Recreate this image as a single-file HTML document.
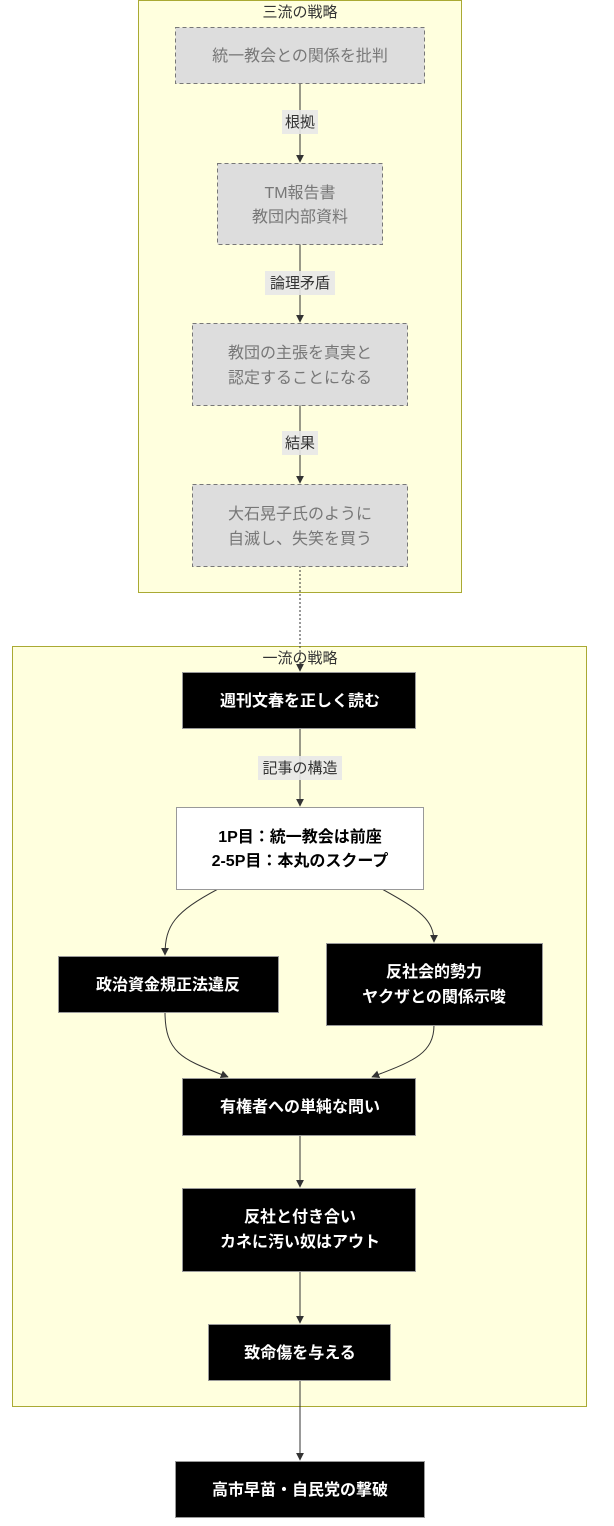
<!DOCTYPE html>
<html><head><meta charset="utf-8"><style>
html,body{margin:0;padding:0;background:#fff;}
svg{display:block;font-family:"Liberation Sans","Noto Sans CJK JP",sans-serif;}
</style></head><body>
<svg width="614" height="1526" viewBox="0 0 614 1526" xmlns="http://www.w3.org/2000/svg">
<defs>
<marker id="a" viewBox="0 0 10 10" refX="9" refY="5" markerWidth="8" markerHeight="8" orient="auto"><path d="M0,0L10,5L0,10z" fill="#333"/></marker>
</defs>
<!-- subgraph 1 -->
<rect x="138.5" y="0.5" width="323" height="592" fill="#ffffde" stroke="#aaaa33"/>
<text x="300" y="17" text-anchor="middle" font-size="15" fill="#333">三流の戦略</text>
<!-- subgraph 2 -->
<rect x="12.5" y="646.5" width="574" height="760" fill="#ffffde" stroke="#aaaa33"/>

<g stroke="#333" stroke-width="1" fill="none">
<line x1="300" y1="83" x2="300" y2="162" marker-end="url(#a)"/>
<line x1="300" y1="244" x2="300" y2="322" marker-end="url(#a)"/>
<line x1="300" y1="405" x2="300" y2="483" marker-end="url(#a)"/>
<line x1="300" y1="566" x2="300" y2="671" stroke-dasharray="2,2" marker-end="url(#a)"/>
<line x1="300" y1="728" x2="300" y2="806" marker-end="url(#a)"/>
<path d="M218,889 C175,912 165,925 165,955" marker-end="url(#a)"/>
<path d="M382,889 C420,910 434,920 434,942" marker-end="url(#a)"/>
<path d="M165,1012 C165,1055 185,1060 228,1077" marker-end="url(#a)"/>
<path d="M434,1025 C434,1055 410,1062 372,1077" marker-end="url(#a)"/>
<line x1="300" y1="1135" x2="300" y2="1187" marker-end="url(#a)"/>
<line x1="300" y1="1271" x2="300" y2="1323" marker-end="url(#a)"/>
<line x1="300" y1="1380" x2="300" y2="1460" marker-end="url(#a)"/>
</g>
<text x="300" y="663" text-anchor="middle" font-size="15" fill="#333">一流の戦略</text>

<!-- edge labels -->
<g font-size="15" fill="#333" text-anchor="middle">
<rect x="282" y="110" width="36" height="24" fill="#e8e8e8" opacity="0.9"/><text x="300" y="127">根拠</text>
<rect x="265" y="271" width="70" height="24" fill="#e8e8e8" opacity="0.9"/><text x="300" y="288">論理矛盾</text>
<rect x="282" y="431" width="36" height="24" fill="#e8e8e8" opacity="0.9"/><text x="300" y="448">結果</text>
<rect x="258" y="756" width="84" height="24" fill="#e8e8e8" opacity="0.9"/><text x="300" y="773">記事の構造</text>
</g>

<!-- dashed grey nodes -->
<g fill="#dddddd" stroke="#777" stroke-dasharray="4,3">
<rect x="175.5" y="27.5" width="249" height="56"/>
<rect x="217.5" y="163.5" width="165" height="81"/>
<rect x="192.5" y="323.5" width="215" height="82"/>
<rect x="192.5" y="484.5" width="215" height="82"/>
</g>
<g font-size="16" fill="#777" text-anchor="middle">
<text x="300" y="61">統一教会との関係を批判</text>
<text x="300" y="198">TM報告書</text><text x="300" y="222">教団内部資料</text>
<text x="300" y="358">教団の主張を真実と</text><text x="300" y="383">認定することになる</text>
<text x="300" y="519">大石晃子氏のように</text><text x="300" y="544">自滅し、失笑を買う</text>
</g>

<!-- black nodes -->
<g fill="#000" stroke="#999">
<rect x="182.5" y="672.5" width="233" height="56"/>
<rect x="58.5" y="956.5" width="220" height="56"/>
<rect x="326.5" y="943.5" width="216" height="82"/>
<rect x="182.5" y="1078.5" width="233" height="57"/>
<rect x="182.5" y="1188.5" width="233" height="83"/>
<rect x="208.5" y="1324.5" width="182" height="56"/>
<rect x="175.5" y="1461.5" width="249" height="56"/>
</g>
<rect x="176.5" y="807.5" width="247" height="82" fill="#fff" stroke="#999"/>
<g font-size="16" font-weight="bold" fill="#fff" text-anchor="middle">
<text x="300" y="706">週刊文春を正しく読む</text>
<text x="168" y="990">政治資金規正法違反</text>
<text x="434" y="977">反社会的勢力</text><text x="434" y="1002">ヤクザとの関係示唆</text>
<text x="300" y="1112">有権者への単純な問い</text>
<text x="300" y="1222">反社と付き合い</text><text x="300" y="1247">カネに汚い奴はアウト</text>
<text x="300" y="1358">致命傷を与える</text>
<text x="300" y="1495">高市早苗・自民党の撃破</text>
</g>
<g font-size="16" font-weight="bold" fill="#000" text-anchor="middle">
<text x="300" y="842">1P目：統一教会は前座</text>
<text x="300" y="866">2-5P目：本丸のスクープ</text>
</g>
</svg>
</body></html>
